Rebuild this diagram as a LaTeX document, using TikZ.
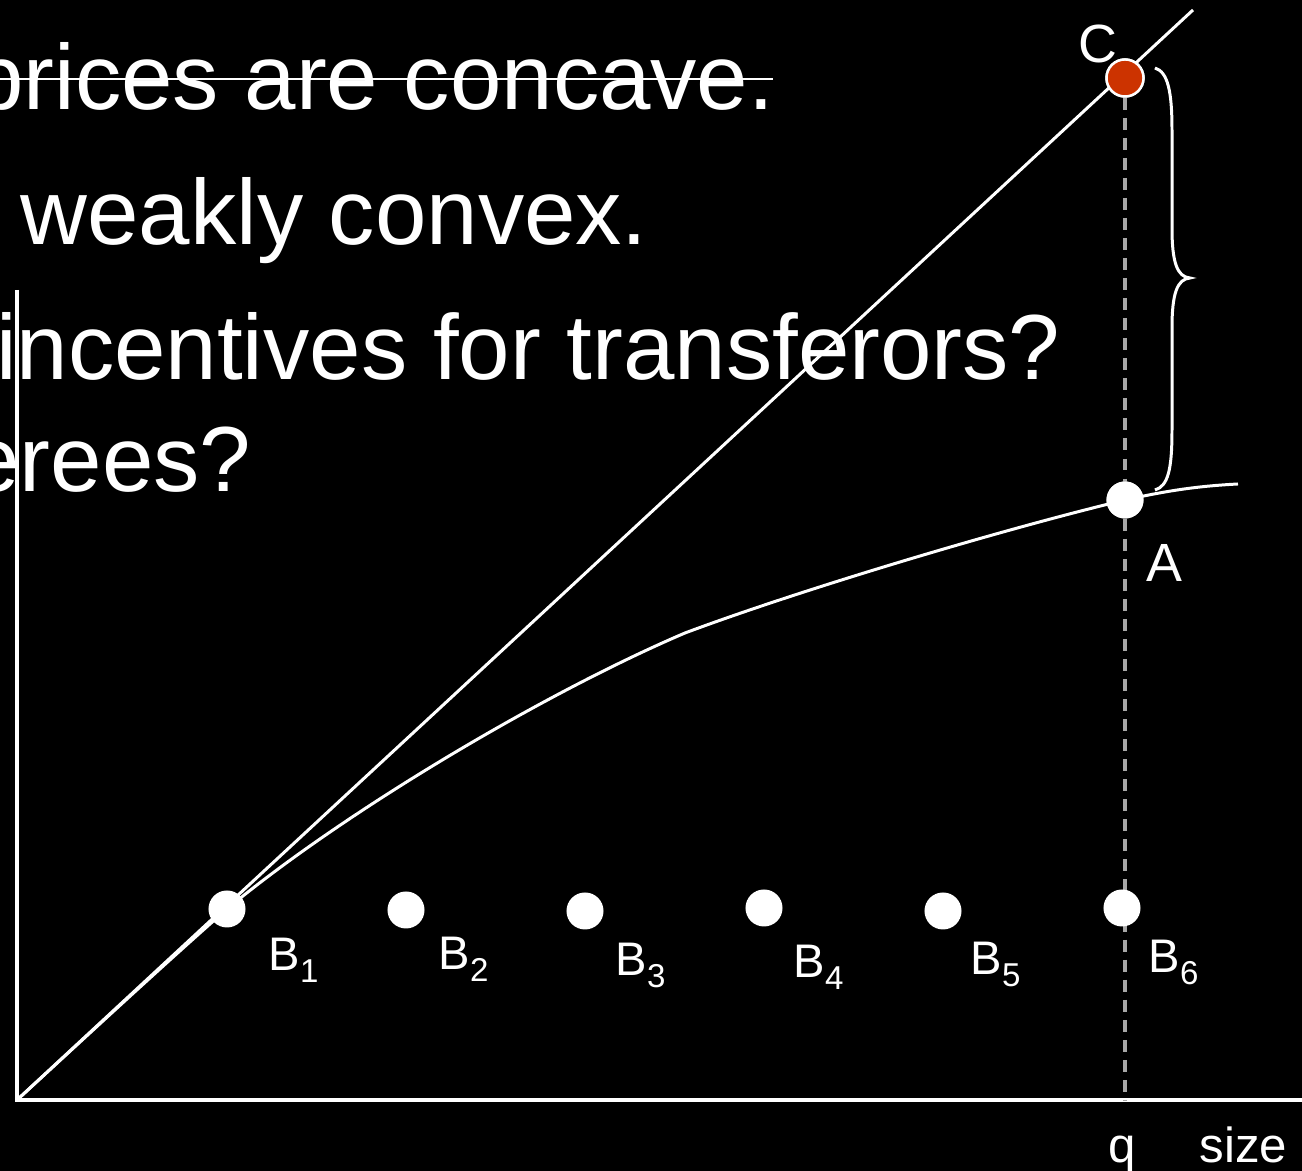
\documentclass[tikz,border=0pt]{standalone}
\usepackage{fontspec}
\setmainfont{Liberation Sans}
\usetikzlibrary{positioning}
\definecolor{dotred}{HTML}{CC3300}
\definecolor{dashgray}{HTML}{A8A8A8}
\newcommand{\bsub}[1]{B\raisebox{-3.4pt}{\fontsize{9.4}{10}\selectfont #1}}

\begin{document}
\begin{tikzpicture}[x=0.01cm, y=-0.01cm,
    line/.style={white, line width=0.85pt},
    axis/.style={white, line width=1pt},
    dot/.style={circle, fill=white, inner sep=0pt, minimum size=0.37cm},
    reddot/.style={circle, fill=dotred, draw=white, line width=0.7pt, inner sep=0pt, minimum size=0.37cm},
    lab/.style={white, inner sep=0pt, anchor=base west, font=\fontsize{13.4}{16}\selectfont},
    slide/.style={white, inner sep=0pt, font=\fontsize{26.3}{30}\selectfont}]
\fill[black] (0,0) rectangle (1302,1171);
\useasboundingbox (0,0) rectangle (1302,1171);

% Slide text, cut off at the left edge.
\node[slide, anchor=base east] (l1) at (775,110) {prices are concave.};
\draw[white, line width=0.6pt] (0,79) -- (773,79);
\node[slide, anchor=base west] (l2) at (20,245) {weakly convex.};
\node[slide, anchor=base east] (l3) at (1061,380) {incentives for transferors?};
\node[slide, anchor=base east] (l4) at (252,492) {erees?};

% Axes.
\coordinate (O) at (17,1100);
\coordinate (ytop) at (17,290);
\coordinate (xend) at (1302,1100);
\draw[axis] (ytop) -- (O) -- (xend);

% Points C and A.
\coordinate (diagEnd) at (1193,10);
\coordinate (qtick) at (1125,1101);
\node[reddot] (C) at (1125,78) {};
\node[dot] (A) at (1125,500) {};

% Straight line and concave curve.
\draw[line] (O) -- (diagEnd);
\draw[line] (O) .. controls (90,1033) and (160,968) .. (227,909)
    .. controls (340,815) and (540,695) .. (685,633)
    .. controls (800,590) and (1000,530) .. (A.center)
    .. controls (1170,490) and (1200,486) .. (1238,484);
\draw[dashgray, line width=0.9pt, dash pattern=on 3.4pt off 2.3pt] (C) -- (qtick);
\node[dot] at (A) {};
\node[reddot] at (C) {};

% Brace between C and A.
\draw[line] (1155,68) .. controls (1168,72) and (1172,92) .. (1172,130)
    -- (1172,228) .. controls (1172,262) and (1177,277) .. (1190,278)
    .. controls (1177,279) and (1172,294) .. (1172,328)
    -- (1172,430) .. controls (1172,470) and (1168,486) .. (1155,490);

% Row of B points.
\foreach \i/\x/\y/\lx/\ly in {1/227/909/268/971, 2/406/910/438/970, 3/585/911/615/976,
    4/764/908/793/978, 5/943/911/970/975, 6/1122/908/1148/973}{
    \node[dot] (b\i) at (\x,\y) {};
    \node[lab] at (\lx,\ly) {\bsub{\i}};
}

% Labels.
\node[lab, font=\fontsize{15.3}{18}\selectfont] (labA) at (1146,582) {A};
\node[lab, font=\fontsize{15.3}{18}\selectfont] (labC) at (1078,63) {C};
\node[lab, font=\fontsize{14}{16}\selectfont] (labq) at (1108,1163) {q};
\node[lab, font=\fontsize{14}{16}\selectfont] (labsize) at (1199,1163) {size};
\end{tikzpicture}
\end{document}
